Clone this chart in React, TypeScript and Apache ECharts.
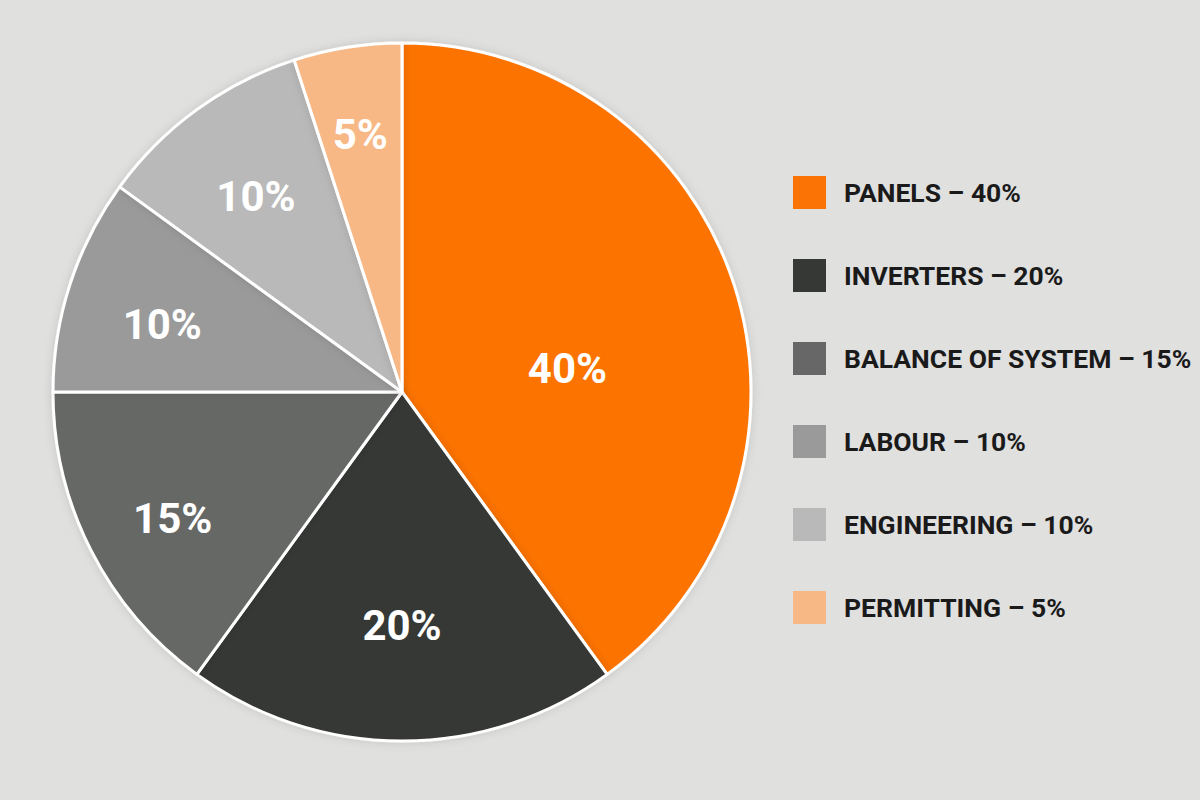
import * as echarts from 'echarts';
import { useEffect, useRef } from 'react';

const categories = ['PANELS', 'INVERTERS', 'BALANCE OF SYSTEM', 'LABOUR', 'ENGINEERING', 'PERMITTING'];
const shares = [40, 20, 15, 10, 10, 5];
const colors = ['#fc7305', '#363836', '#666766', '#9a9a9a', '#b9b9b9', '#f8b886'];

// how far each label is pushed out from the pie centre, plus a small vertical nudge
const labelScale = [0.98, 1.33, 1.45, 1.42, 1.4, 1.5];
const labelShift = [30, -3, 10, 10, 6, 5];

const CX = 402;
const CY = 392;

const App = () => {
    const chartRef = useRef(null);

    useEffect(() => {
        document.body.style.margin = '0';
        const chart = echarts.init(chartRef.current, null, { renderer: 'svg' });

        const option = {
            animation: false,
            backgroundColor: '#e0e0df',
            legend: {
                orient: 'vertical',
                left: 788,
                top: 171,
                itemWidth: 33,
                itemHeight: 33,
                itemGap: 50,
                icon: 'rect',
                selectedMode: false,
                itemStyle: { borderWidth: 0 },
                formatter: (name) => {
                    const i = categories.indexOf(name);
                    return `${name} \u2013 ${shares[i]}%`;
                },
                textStyle: {
                    fontFamily: 'Roboto',
                    fontWeight: 'bold',
                    fontSize: 26.5,
                    color: '#1a1a1a',
                    padding: [0, 0, 0, 13],
                },
            },
            series: [
                {
                    type: 'pie',
                    center: [CX, CY],
                    radius: [0, 349],
                    startAngle: 90,
                    clockwise: true,
                    data: categories.map((name, i) => ({
                        name,
                        value: shares[i],
                        itemStyle: { color: colors[i] },
                    })),
                    itemStyle: {
                        borderColor: '#ffffff',
                        borderWidth: 3,
                        shadowBlur: 10,
                        shadowColor: 'rgba(0,0,0,0.12)',
                    },
                    label: {
                        show: true,
                        position: 'inside',
                        formatter: '{c}%',
                        color: '#ffffff',
                        fontFamily: 'Roboto',
                        fontWeight: 'bold',
                        fontSize: 42,
                    },
                    labelLine: { show: false },
                    emphasis: { disabled: true },
                    labelLayout: (params) => {
                        const r = params.labelRect;
                        const mx = r.x + r.width / 2;
                        const my = r.y + r.height / 2;
                        const k = labelScale[params.dataIndex];
                        return {
                            x: CX + k * (mx - CX),
                            y: CY + k * (my - CY) + labelShift[params.dataIndex],
                            align: 'center',
                            verticalAlign: 'middle',
                        };
                    },
                },
            ],
        };

        chart.setOption(option);

        return () => {
            chart.dispose();
        };
    }, []);

    return <div ref={chartRef} style={{ width: '1200px', height: '800px' }} />;
};

export default App;
